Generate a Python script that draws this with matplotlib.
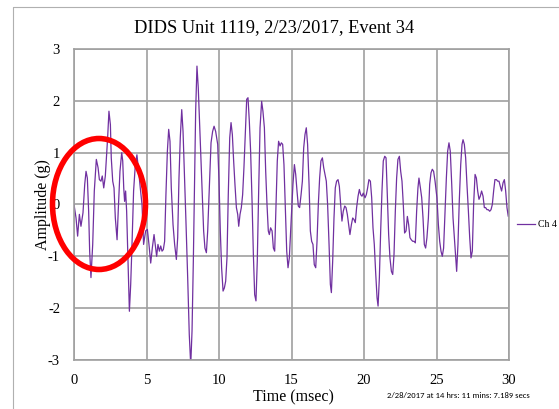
import matplotlib
matplotlib.use("Agg")
import matplotlib.pyplot as plt
from matplotlib.patches import Ellipse, Rectangle

title = "DIDS Unit 1119, 2/23/2017, Event 34"
x_label = "Time (msec)"
y_label = "Amplitude (g)"
series_name = "Ch 4 (g)"
stamp = "2/28/2017 at 14 hrs: 11 mins: 7.189 secs"
x_ticks = [0, 5, 10, 15, 20, 25, 30]
y_ticks = [-3, -2, -1, 0, 1, 2, 3]

time_ms = [
    0.0, 0.14, 0.25, 0.37, 0.48, 0.62, 0.74, 0.83, 0.92, 1.01, 1.08, 1.17, 1.29, 1.40,
    1.54, 1.66, 1.75, 1.86, 1.95, 2.05, 2.16, 2.25, 2.32, 2.41, 2.51, 2.57, 2.67, 2.76,
    2.85, 2.97, 3.06, 3.17, 3.29, 3.36, 3.43, 3.49, 3.56, 3.63, 3.72, 3.82, 3.91, 4.00,
    4.11, 4.23, 4.34, 4.46, 4.57, 4.69, 4.80, 4.94, 5.06, 5.17, 5.29, 5.40, 5.52, 5.63,
    5.70, 5.79, 5.89, 5.98, 6.07, 6.16, 6.25, 6.34, 6.44, 6.53, 6.62, 6.71, 6.83, 6.94,
    7.06, 7.15, 7.24, 7.33, 7.43, 7.52, 7.61, 7.72, 7.84, 7.95, 8.05, 8.14, 8.23, 8.32,
    8.39, 8.48, 8.57, 8.67, 8.76, 8.85, 8.94, 9.03, 9.13, 9.22, 9.33, 9.45, 9.56, 9.66,
    9.77, 9.91, 10.0, 10.09, 10.18, 10.28, 10.37, 10.46, 10.55, 10.64, 10.74, 10.83,
    10.92, 11.01, 11.10, 11.20, 11.29, 11.36, 11.45, 11.54, 11.63, 11.72, 11.82, 11.91,
    12.00, 12.09, 12.18, 12.28, 12.37, 12.46, 12.55, 12.64, 12.74, 12.83, 12.94, 13.03,
    13.13, 13.22, 13.31, 13.40, 13.47, 13.56, 13.66, 13.75, 13.84, 13.93, 14.02, 14.11,
    14.21, 14.30, 14.39, 14.48, 14.57, 14.67, 14.76, 14.85, 14.92, 15.01, 15.10, 15.20,
    15.29, 15.38, 15.47, 15.56, 15.66, 15.75, 15.84, 15.93, 16.02, 16.11, 16.21, 16.30,
    16.39, 16.48, 16.57, 16.67, 16.76, 16.85, 16.94, 17.03, 17.13, 17.22, 17.31, 17.40,
    17.49, 17.59, 17.68, 17.75, 17.84, 17.93, 18.02, 18.11, 18.21, 18.30, 18.39, 18.48,
    18.57, 18.67, 18.76, 18.85, 18.94, 19.03, 19.13, 19.22, 19.31, 19.40, 19.49, 19.59,
    19.68, 19.77, 19.86, 19.95, 20.07, 20.16, 20.25, 20.34, 20.44, 20.53, 20.62, 20.71,
    20.80, 20.90, 20.97, 21.06, 21.15, 21.24, 21.33, 21.43, 21.52, 21.61, 21.70, 21.79,
    21.89, 21.98, 22.07, 22.16, 22.25, 22.34, 22.44, 22.53, 22.62, 22.71, 22.80, 22.90,
    22.99, 23.08, 23.17, 23.26, 23.36, 23.45, 23.54, 23.63, 23.72, 23.79, 23.89, 23.98,
    24.07, 24.16, 24.25, 24.34, 24.44, 24.53, 24.62, 24.71, 24.80, 24.90, 25.03, 25.13,
    25.22, 25.31, 25.40, 25.49, 25.59, 25.68, 25.77, 25.86, 25.95, 26.05, 26.14, 26.23,
    26.32, 26.39, 26.48, 26.57, 26.67, 26.76, 26.83, 26.92, 27.01, 27.10, 27.20, 27.29,
    27.38, 27.47, 27.56, 27.66, 27.75, 27.84, 27.93, 28.02, 28.11, 28.21, 28.30, 28.39,
    28.48, 28.57, 28.67, 28.76, 28.85, 28.94, 29.03, 29.13, 29.22, 29.31, 29.40, 29.49,
    29.59, 29.68, 29.77, 29.86, 29.95, 30.0,
]

amplitude_g = [
    0.0, -0.26, -0.61, -0.19, -0.42, -0.16, 0.39, 0.64, 0.51, -0.13, -0.9, -1.41, -0.77, 0.26,
    0.87, 0.71, 0.48, 0.45, 0.55, 0.32, 0.55, 0.96, 1.29, 1.8, 1.54, 0.9, 0.45, 0.32,
    -0.26, -0.68, -0.06, 0.64, 1.0, 0.84, 0.32, 0.06, 0.26, -0.13, -1.03, -2.06, -1.54, -0.77,
    0.26, 0.77, 0.96, 0.64, 0.32, 0.0, -0.77, -0.51, -0.48, -0.77, -1.13, -0.84, -0.58, -0.84,
    -1.0, -0.77, -0.9, -0.8, -0.9, -0.87, -0.71, 0.19, 1.03, 1.45, 1.22, 0.32, -0.39, -0.77,
    -1.06, -0.64, 0.51, 1.29, 1.83, 1.41, 0.64, -0.32, -1.41, -2.51, -3.1, -2.44, -1.09, 0.51,
    1.8, 2.67, 2.25, 1.48, 0.84, 0.19, -0.51, -0.84, -0.93, -0.51, 0.32, 1.19, 1.41, 1.51,
    1.41, 1.16, 0.45, -0.51, -1.22, -1.67, -1.61, -1.48, -1.03, 0.19, 1.29, 1.58,
    1.35, 0.84, 0.39, -0.06, -0.19, -0.42, -0.19, -0.06, 0.19, 0.71, 1.41, 2.03,
    2.06, 1.61, 1.03, 0.06, -0.96, -1.74, -1.86, -1.09, 0.32, 1.48, 1.99, 1.8,
    1.48, 0.64, 0.0, -0.51, -0.58, -0.45, -0.51, -0.84, -0.9, 0.0, 0.84, 1.22,
    1.13, 1.19, 1.16, 0.77, 0.0, -0.9, -1.22, -1.03, -0.64, -0.13, 0.39, 0.77,
    0.58, 0.26, -0.03, -0.06, 0.19, 0.45, 1.09, 1.35, 1.48, 1.16, 0.39, -0.51,
    -0.71, -0.77, -1.16, -1.22, -0.71, 0.0, 0.51, 0.84, 0.9, 0.71, 0.58, 0.45,
    0.0, -0.77, -1.54, -1.7, -1.09, -0.26, 0.32, 0.45, 0.48, 0.35, 0.0, -0.32,
    -0.13, -0.03, -0.06, -0.19, -0.39, -0.58, -0.39, -0.26, -0.29, -0.35, -0.06, 0.16,
    0.29, 0.19, 0.16, 0.22, 0.13, 0.19, 0.32, 0.48, 0.45, 0.13, -0.45, -0.77,
    -1.29, -1.8, -1.96, -1.41, -0.51, 0.26, 0.84, 0.93, 0.9, 0.19, -0.58, -1.03,
    -1.29, -1.35, -0.96, -0.13, 0.51, 0.87, 0.93, 0.64, 0.45, 0.0, -0.55, -0.51,
    -0.23, -0.39, -0.64, -0.68, -0.71, -0.71, -0.74, -0.13, 0.32, 0.51, 0.32, 0.13,
    -0.26, -0.77, -0.84, -0.64, -0.26, 0.39, 0.61, 0.68, 0.64, 0.45, 0.13, -0.39,
    -0.71, -0.9, -1.0, -0.84, -0.13, 0.51, 1.03, 1.19, 1.03, 0.39, -0.26, -0.64,
    -1.03, -1.29, -0.77, 0.06, 0.77, 1.16, 1.25, 1.16, 0.9, 0.39, -0.13, -0.64,
    -1.03, -0.9, 0.0, 0.58, 0.51, 0.26, 0.1, 0.16, 0.26, 0.16, -0.06, -0.06,
    -0.1, -0.1, -0.13, -0.1, 0.0, 0.26, 0.48, 0.48, 0.45, 0.45, 0.35, 0.26,
    0.42, 0.48, 0.26, -0.06, -0.23, -0.13,
]

W, H = 559, 409
fig = plt.figure(figsize=(W / 100, H / 100), dpi=100)
fig.patch.set_facecolor("white")

serif = ["Liberation Serif", "DejaVu Serif"]
grid_c = "#a0a0a0"
line_c = "#7030A0"

ax = fig.add_axes([74 / W, 1 - 360 / H, (509 - 74) / W, (360 - 49) / H])
ax.plot(time_ms, amplitude_g, color=line_c, lw=0.9, solid_joinstyle="round")
ax.set_xlim(0, 30)
ax.set_ylim(-3, 3)
ax.set_xticks(x_ticks)
ax.set_yticks(y_ticks)
ax.set_xticklabels([str(v) for v in x_ticks], family=serif, fontsize=10.5)
ax.set_yticklabels([str(v) for v in y_ticks], family=serif, fontsize=10.5)
ax.tick_params(axis="x", length=0, pad=10, colors="black")
ax.tick_params(axis="y", length=0, pad=10, colors="black")
ax.grid(True, color=grid_c, lw=1.2)
ax.set_axisbelow(True)
for s in ax.spines.values():
    s.set_color(grid_c)
    s.set_linewidth(1.2)

# overlay axes in pixel coordinates
ov = fig.add_axes([0, 0, 1, 1], facecolor="none")
ov.set_xlim(0, W)
ov.set_ylim(H, 0)
ov.axis("off")
ov.add_patch(Rectangle((13, 7), 600, 450, fill=False, edgecolor="#b0b0b0", lw=0.8))
ov.text(274, 28, title, family=serif, fontsize=13.2, ha="center", va="center")
ov.text(293, 397, x_label, family=serif, fontsize=11.5, ha="center", va="center")
ov.text(43, 205, y_label, family=serif, fontsize=11.5, ha="center", va="center", rotation=90)
ov.text(458, 395, stamp, family=["Carlito", "Liberation Sans", "DejaVu Sans"], fontsize=6.2,
        ha="center", va="center")
ov.plot([517, 535], [224, 224], color=line_c, lw=0.9)
ov.text(538, 224, series_name, family=serif, fontsize=7, ha="left", va="center")
ov.add_patch(Ellipse((99, 204), 93, 131, fill=False, edgecolor="#ff0000", lw=4))

fig.savefig("out.png", dpi=100)
